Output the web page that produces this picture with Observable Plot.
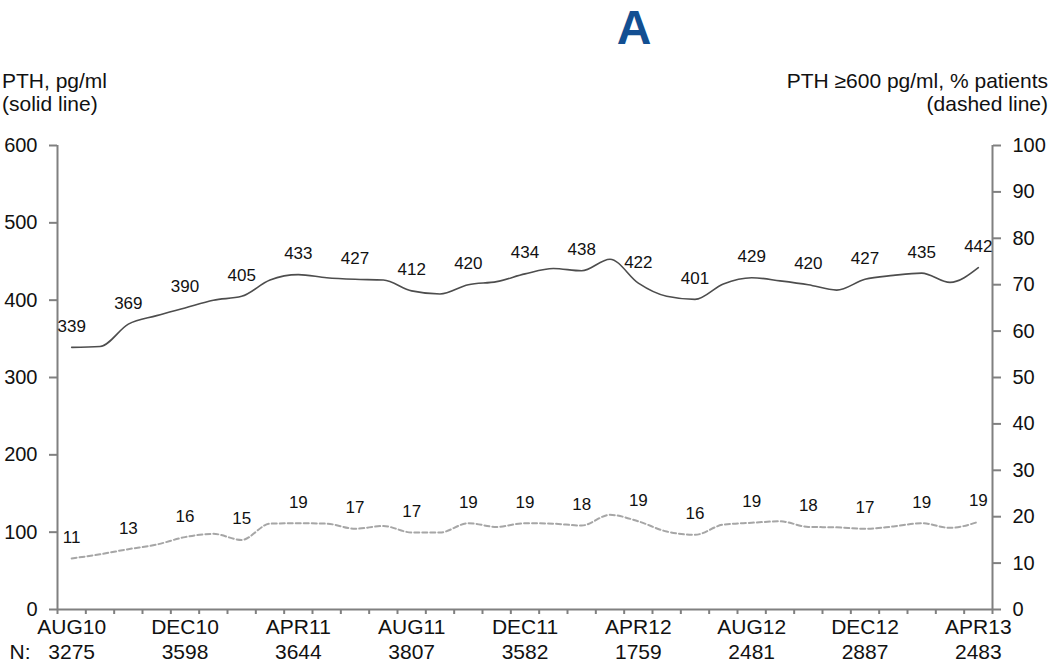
<!DOCTYPE html>
<html>
<head>
<meta charset="utf-8">
<script src="https://cdn.jsdelivr.net/npm/d3@7"></script>
<script src="https://cdn.jsdelivr.net/npm/@observablehq/plot@0.6"></script>
<style>
  body { margin: 0; background: #fff; font-family: "Liberation Sans", Arial, sans-serif; }
  #wrap { width: 1050px; height: 667px; position: relative; overflow: hidden; }
  #header { position: relative; width: 1050px; height: 130px; }
  .title { position: absolute; left: 584px; width: 100px; text-align: center; top: 4px; font-size: 48px; line-height: 48px; font-weight: bold; color: #124f92; }
  .ytitle { position: absolute; top: 69px; font-size: 21px; line-height: 23px; color: #111; white-space: nowrap; }
  .ytitle.left { left: 2px; text-align: left; }
  .ytitle.right { right: 2px; text-align: right; }
  svg { display: block; }
</style>
</head>
<body>
<div id="wrap">
  <div id="header">
    <div class="title">A</div>
    <div class="ytitle left">PTH, pg/ml<br>(solid line)</div>
    <div class="ytitle right">PTH ≥600 pg/ml, % patients<br>(dashed line)</div>
  </div>
  <div id="chart"></div>
</div>
<script>
// Months (one point per month)
const months = ["AUG10","SEP10","OCT10","NOV10","DEC10","JAN11","FEB11","MAR11","APR11","MAY11","JUN11","JUL11",
  "AUG11","SEP11","OCT11","NOV11","DEC11","JAN12","FEB12","MAR12","APR12","MAY12","JUN12","JUL12",
  "AUG12","SEP12","OCT12","NOV12","DEC12","JAN13","FEB13","MAR13","APR13"];

// Mean PTH, pg/ml (solid line)
const pth = [339,340,369,380,390,400,405,426,433,429,427,426,
  412,408,420,424,434,441,438,453,422,405,401,421,
  429,425,420,413,427,432,435,423,442];

// % patients with PTH >= 600 pg/ml (dashed line)
const pct = [11,11.9,13,14,15.6,16.3,15,18.5,18.6,18.5,17.4,18,
  16.6,16.6,18.6,17.8,18.6,18.5,18.1,20.4,19,16.8,16.1,18.3,
  18.7,19,17.8,17.7,17.4,17.9,18.6,17.6,18.9];

// Printed data labels (every second month)
const pthLabels = [339,369,390,405,433,427,412,420,434,438,422,401,429,420,427,435,442];
const pctLabels = [11,13,16,15,19,17,17,19,19,18,19,16,19,18,17,19,19];

// Axis tick labels (every fourth month) and patient counts
const tickMonths = ["AUG10","DEC10","APR11","AUG11","DEC11","APR12","AUG12","DEC12","APR13"];
const nCounts = [3275,3598,3644,3807,3582,1759,2481,2887,2483];

const leftTicks = [0,100,200,300,400,500,600];
const rightTicks = [0,10,20,30,40,50,60,70,80,90,100];

const scaleFactor = 600 / 100; // right axis (0–100 %) mapped onto left axis (0–600)

const series = months.map((m, i) => ({i, m, pth: pth[i], pct: pct[i]}));
const labelIdx = pthLabels.map((_, k) => k * 2);
const tickIdx = tickMonths.map(m => months.indexOf(m));
const edges = d3.range(months.length + 1).map(i => i - 0.5);

const font = "'Liberation Sans', Arial, sans-serif";
const axisColor = "#808080";

const chart = Plot.plot({
  width: 1050,
  height: 537,
  marginLeft: 57,
  marginRight: 58,
  marginTop: 15,
  marginBottom: 58,
  style: {fontFamily: font, fontSize: "20px", color: "#111", background: "#fff"},
  x: {domain: [-0.5, months.length - 0.5], axis: null},
  y: {domain: [0, 600], axis: null},
  marks: [
    // axis lines
    Plot.ruleX([-0.5], {stroke: axisColor, strokeWidth: 2}),
    Plot.ruleX([months.length - 0.5], {stroke: axisColor, strokeWidth: 2}),
    Plot.ruleY([0], {stroke: axisColor, strokeWidth: 2}),
    // left axis
    Plot.axisY({anchor: "left", ticks: leftTicks, tickSize: 8, tickPadding: 12, stroke: axisColor, strokeWidth: 2, fontSize: 20, label: null, fill: "#111"}),
    // right axis (percent)
    Plot.axisY({anchor: "right", ticks: rightTicks.map(p => p * scaleFactor), tickFormat: d => Math.round(d / scaleFactor), tickSize: 8, tickPadding: 12, stroke: axisColor, strokeWidth: 2, fontSize: 20, label: null, fill: "#111"}),
    // bottom ticks at month boundaries
    Plot.axisX({ticks: edges, tickSize: 5, tickFormat: () => "", stroke: axisColor, strokeWidth: 2, label: null}),
    // month labels and N counts
    Plot.text(tickIdx, {x: d => d, text: (d, k) => tickMonths[k], frameAnchor: "bottom", dy: 24, fontSize: 21, fill: "#111"}),
    Plot.text(tickIdx, {x: d => d, text: (d, k) => String(nCounts[k]), frameAnchor: "bottom", dy: 49, fontSize: 21, fill: "#111"}),
    Plot.text(["N:"], {text: d => d, frameAnchor: "bottom-left", textAnchor: "start", dx: -48, dy: 49, fontSize: 21, fill: "#111"}),
    // lines
    Plot.line(series, {x: "i", y: d => d.pct * scaleFactor, stroke: "#a6a6a6", strokeWidth: 2, strokeDasharray: "5,3", curve: "monotone-x"}),
    Plot.line(series, {x: "i", y: "pth", stroke: "#4d4d4d", strokeWidth: 1.6, curve: "monotone-x"}),
    // data labels
    Plot.text(labelIdx, {x: d => d, y: d => pth[d], text: (d, k) => String(pthLabels[k]), dy: -21, fontSize: 17, fill: "#111"}),
    Plot.text(labelIdx, {x: d => d, y: d => pct[d] * scaleFactor, text: (d, k) => String(pctLabels[k]), dy: -21, fontSize: 17, fill: "#111"})
  ]
});

document.getElementById("chart").appendChild(chart);
</script>
</body>
</html>
